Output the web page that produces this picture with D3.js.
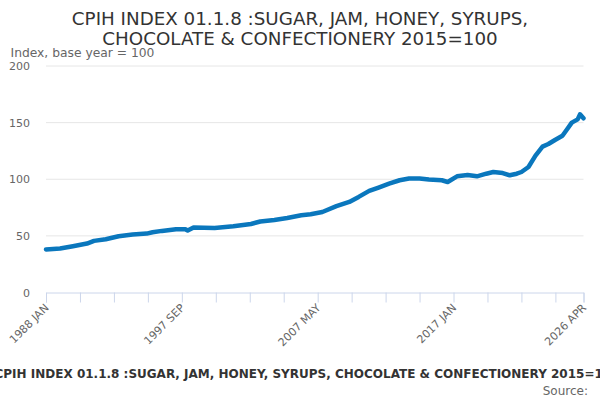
<!DOCTYPE html>
<html><head><meta charset="utf-8">
<script src="https://cdn.jsdelivr.net/npm/d3@7/dist/d3.min.js"></script>
<style>body{margin:0;background:#fff}svg{display:block;font-family:"DejaVu Sans",sans-serif}</style>
</head><body><svg id="c" width="600" height="400"></svg>
<script>
const titleLines = ["CPIH INDEX 01.1.8 :SUGAR, JAM, HONEY, SYRUPS,", "CHOCOLATE & CONFECTIONERY 2015=100"];
const yAxisTitle = "Index, base year = 100";
const seriesName = "CPIH INDEX 01.1.8 :SUGAR, JAM, HONEY, SYRUPS, CHOCOLATE & CONFECTIONERY 2015=100";
const sourceText = "Source:";
const months = ["1988-01","1989-01","1989-12","1990-12","1991-06","1992-04","1993-03","1994-03","1995-03","1995-08","1996-04","1997-04","1997-12","1998-02","1998-07","2000-01","2001-05","2002-08","2003-04","2004-04","2005-03","2006-03","2006-11","2007-09","2008-09","2009-08","2010-04","2011-01","2011-09","2012-06","2013-03","2013-11","2014-08","2015-04","2016-03","2016-08","2017-04","2018-01","2018-09","2019-05","2019-11","2020-07","2021-01","2021-07","2021-11","2022-05","2022-11","2023-05","2023-10","2024-04","2024-10","2025-02","2025-06","2025-11","2026-01","2026-04"];
const values = [38.0,38.8,40.9,43.2,45.6,47.0,49.7,51.2,52.0,53.2,54.4,55.9,55.9,54.7,57.4,57.0,58.5,60.5,62.7,64.1,65.8,68.2,69.1,71.1,76.2,80.0,84.4,89.7,92.7,96.2,99.1,100.6,100.6,99.7,99.1,97.6,102.6,103.8,102.6,104.9,106.4,105.5,103.5,104.9,106.4,110.8,120.9,128.8,131.1,134.9,138.4,144.2,150.0,152.9,157.3,153.8];
const yTicks = [0,50,100,150,200];
const xLabels = ["1988 JAN","1997 SEP","2007 MAY","2017 JAN","2026 APR"];

const svg = d3.select("#c");
const toIdx = s => { const [y,m] = s.split("-").map(Number); return (y-1988)*12 + (m-1); };
const data = months.map((m,i)=>({i:toIdx(m), v:values[i]}));
const last = toIdx("2026-04");

const x = d3.scaleLinear().domain([0,last]).range([46,583.5]);
const y = d3.scaleLinear().domain([0,200]).range([292.5,66]);

// title
svg.append("g").selectAll("text").data(titleLines).join("text")
  .attr("x",300).attr("y",(d,i)=>24.5+i*20.5).attr("text-anchor","middle")
  .attr("font-size",18.3).attr("fill","#333").text(d=>d);

svg.append("text").attr("x",10.5).attr("y",57).attr("font-size",12.3).attr("fill","#666").text(yAxisTitle);

// grid + y labels
const yAxis = d3.axisLeft(y).tickValues(yTicks).tickSize(0).tickPadding(0);
const gy = svg.append("g").attr("transform","translate(30,0)").call(yAxis);
gy.select(".domain").remove();
gy.selectAll("text").attr("font-size",11).attr("fill","#666").attr("font-family","DejaVu Sans");
svg.append("g").selectAll("line").data(yTicks.filter(t=>t>0)).join("line")
  .attr("x1",46).attr("x2",583.5).attr("y1",d=>y(d)).attr("y2",d=>y(d))
  .attr("stroke","#e6e6e6").attr("stroke-width",1);

// x axis
const tickVals = d3.range(0,last,29).concat([last]);
const xAxis = d3.axisBottom(x).tickValues(tickVals).tickSize(10).tickFormat(d=>{const k=tickVals.indexOf(d); return (k%4===0||d===last)? xLabels[d===last?4:k/4] : "";});
const gx = svg.append("g").attr("transform","translate(0,292.5)").call(xAxis);
gx.select(".domain").attr("stroke","#ccd6eb");
gx.selectAll(".tick line").attr("stroke","#ccd6eb");
gx.selectAll("text").attr("font-size",11).attr("fill","#666").attr("font-family","DejaVu Sans")
  .attr("text-anchor","end").attr("dy",0).attr("y",0)
  .attr("transform","translate(3,16) rotate(-45)");

// line
const line = d3.line().x(d=>x(d.i)).y(d=>y(d.v));
svg.append("path").datum(data).attr("d",line).attr("fill","none")
  .attr("stroke","#0a77bd").attr("stroke-width",4.5).attr("stroke-linejoin","round").attr("stroke-linecap","round");

// legend + source
svg.append("text").attr("x",307).attr("y",377.5).attr("text-anchor","middle").attr("font-size",12).attr("font-weight","bold").attr("fill","#333").text(seriesName);
svg.append("text").attr("x",588).attr("y",394.5).attr("text-anchor","end").attr("font-size",12).attr("fill","#666").text(sourceText);
</script></body></html>
